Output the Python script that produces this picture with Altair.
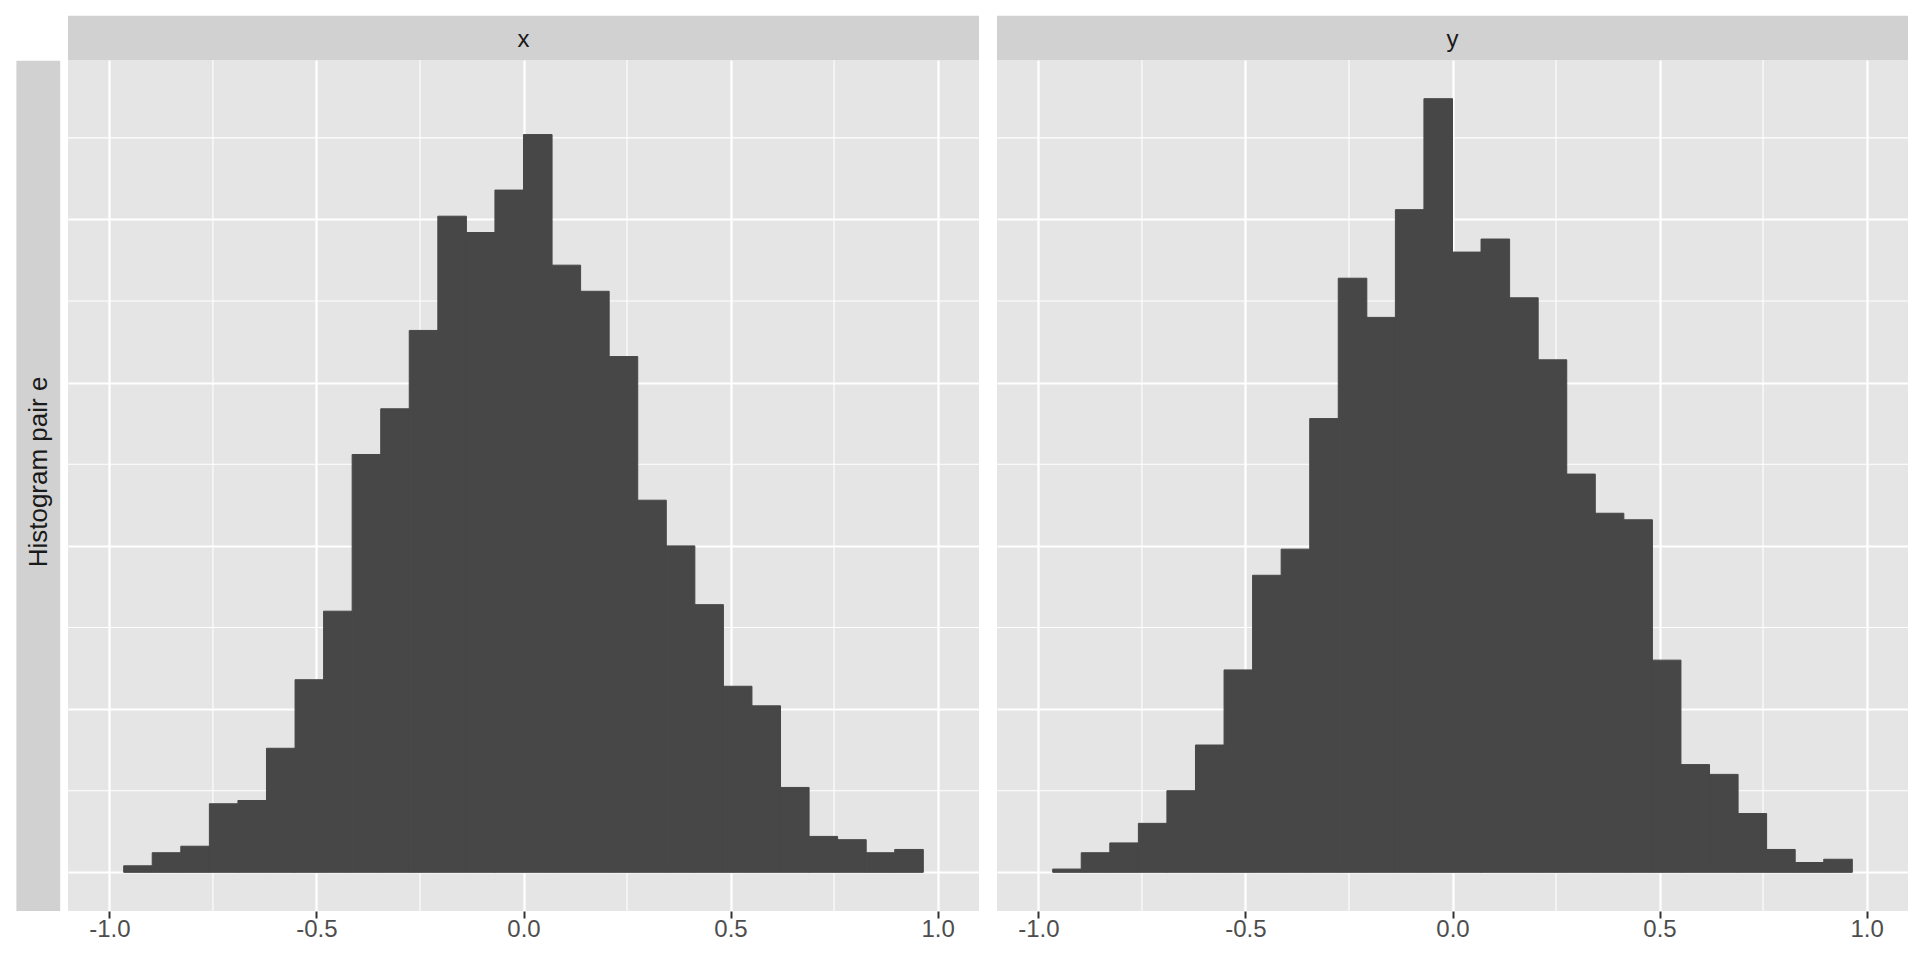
import altair as alt
import pandas as pd

# ---- data -------------------------------------------------------------
PANELS = ["x", "y"]
ROW_LABEL = "Histogram pair e"

# centres of the 28 visible histogram bins (bin width 2/29)
BIN_CENTERS = [-0.9310, -0.8621, -0.7931, -0.7241, -0.6552, -0.5862, -0.5172,
               -0.4483, -0.3793, -0.3103, -0.2414, -0.1724, -0.1034, -0.0345,
               0.0345, 0.1034, 0.1724, 0.2414, 0.3103, 0.3793, 0.4483,
               0.5172, 0.5862, 0.6552, 0.7241, 0.7931, 0.8621, 0.9310]
BIN_WIDTH = 0.06897

X_COUNTS = [2, 6, 8, 21, 22, 38, 59, 80, 128, 142, 166, 201, 196, 209,
            226, 186, 178, 158, 114, 100, 82, 57, 51, 26, 11, 10, 6, 7]
Y_COUNTS = [1, 6, 9, 15, 25, 39, 62, 91, 99, 139, 182, 170, 203, 237,
            190, 194, 176, 157, 122, 110, 108, 65, 33, 30, 18, 7, 3, 4]

X_TICKS = [-1.0, -0.5, 0.0, 0.5, 1.0]
X_MINOR = [-0.75, -0.25, 0.25, 0.75]
Y_MAJOR = [0, 50, 100, 150, 200]
Y_MINOR = [25, 75, 125, 175, 225]

# ---- style ---------------------------------------------------------------
FONT = "Liberation Sans"
W, H = 911, 851
STRIP = 44.3
PANEL_BG = "#E5E5E5"
STRIP_BG = "#D1D1D1"
BAR = "#474747"

ymax = max(max(X_COUNTS), max(Y_COUNTS))
XDOM = [-1.1, 1.1]
YDOM = [-0.05 * ymax, 1.05 * ymax]

X_AXIS = alt.Axis(values=X_TICKS, format=".1f",
                  labelExpr="replace(datum.label, '\u2212', '-')",
                  grid=True, gridColor="white", gridWidth=2.2, gridOpacity=1,
                  domain=False, ticks=True, tickSize=7,
                  tickWidth=2, tickColor="#333333",
                  labelFont=FONT, labelFontSize=24,
                  labelColor="#4D4D4D", labelBaseline="alphabetic",
                  labelPadding=18.5, labelFlush=False, title=None)
Y_AXIS = alt.Axis(values=Y_MAJOR, grid=True, gridColor="white",
                  gridWidth=2.2, gridOpacity=1, labels=False,
                  ticks=False, domain=False, title=None)


def panel(name, counts, left_strip):
    xs = alt.Scale(domain=XDOM, nice=False, zero=False)
    ys = alt.Scale(domain=YDOM, nice=False, zero=False)
    df = pd.DataFrame({"center": BIN_CENTERS, "count": counts})

    bars = alt.Chart(df).transform_calculate(
        x0=f"datum.center - {BIN_WIDTH / 2}",
        x1=f"datum.center + {BIN_WIDTH / 2}",
    ).mark_rect(color=BAR, stroke=BAR, strokeWidth=1).encode(
        x=alt.X("x0:Q", scale=xs, title=None, axis=X_AXIS),
        x2="x1:Q",
        y=alt.Y("count:Q", scale=ys, title=None, axis=Y_AXIS),
        y2=alt.datum(0),
    )

    minor_x = alt.Chart(pd.DataFrame({"v": X_MINOR})).mark_rule(
        color="white", strokeWidth=1.1
    ).encode(x=alt.X("v:Q", scale=xs, title=None, axis=X_AXIS))

    minor_y = alt.Chart(pd.DataFrame({"v": Y_MINOR})).mark_rule(
        color="white", strokeWidth=1.1
    ).encode(y=alt.Y("v:Q", scale=ys, title=None, axis=Y_AXIS))

    lab = pd.DataFrame({"label": [name]})
    strip_rect = alt.Chart(lab).mark_rect(color=STRIP_BG).encode(
        x=alt.value(0), x2=alt.value(W), y=alt.value(-STRIP), y2=alt.value(0)
    )
    strip_text = alt.Chart(lab).mark_text(
        font=FONT, fontSize=24, color="#1A1A1A", baseline="alphabetic",
        align="center"
    ).encode(x=alt.value(W / 2), y=alt.value(-13.3), text="label:N")

    layers = [minor_x, minor_y, bars, strip_rect, strip_text]

    if left_strip:
        rl = pd.DataFrame({"label": [ROW_LABEL]})
        ls_rect = alt.Chart(rl).mark_rect(color=STRIP_BG).encode(
            x=alt.value(-51.6), x2=alt.value(-7.8), y=alt.value(0.7),
            y2=alt.value(H)
        )
        ls_text = alt.Chart(rl).mark_text(
            font=FONT, fontSize=26, color="#1A1A1A", baseline="alphabetic",
            align="center", angle=270
        ).encode(x=alt.value(-21.5), y=alt.value(412), text="label:N")
        layers += [ls_rect, ls_text]

    return alt.layer(*layers).properties(width=W, height=H)


chart = alt.hconcat(
    panel(PANELS[0], X_COUNTS, True),
    panel(PANELS[1], Y_COUNTS, False),
    spacing=16,
).properties(
    padding={"left": 8, "top": 7, "right": 0, "bottom": 0},
    background="white",
).configure_view(
    fill=PANEL_BG, stroke=None
)

chart.save("out.html", embed_options={"renderer": "svg", "actions": False})
